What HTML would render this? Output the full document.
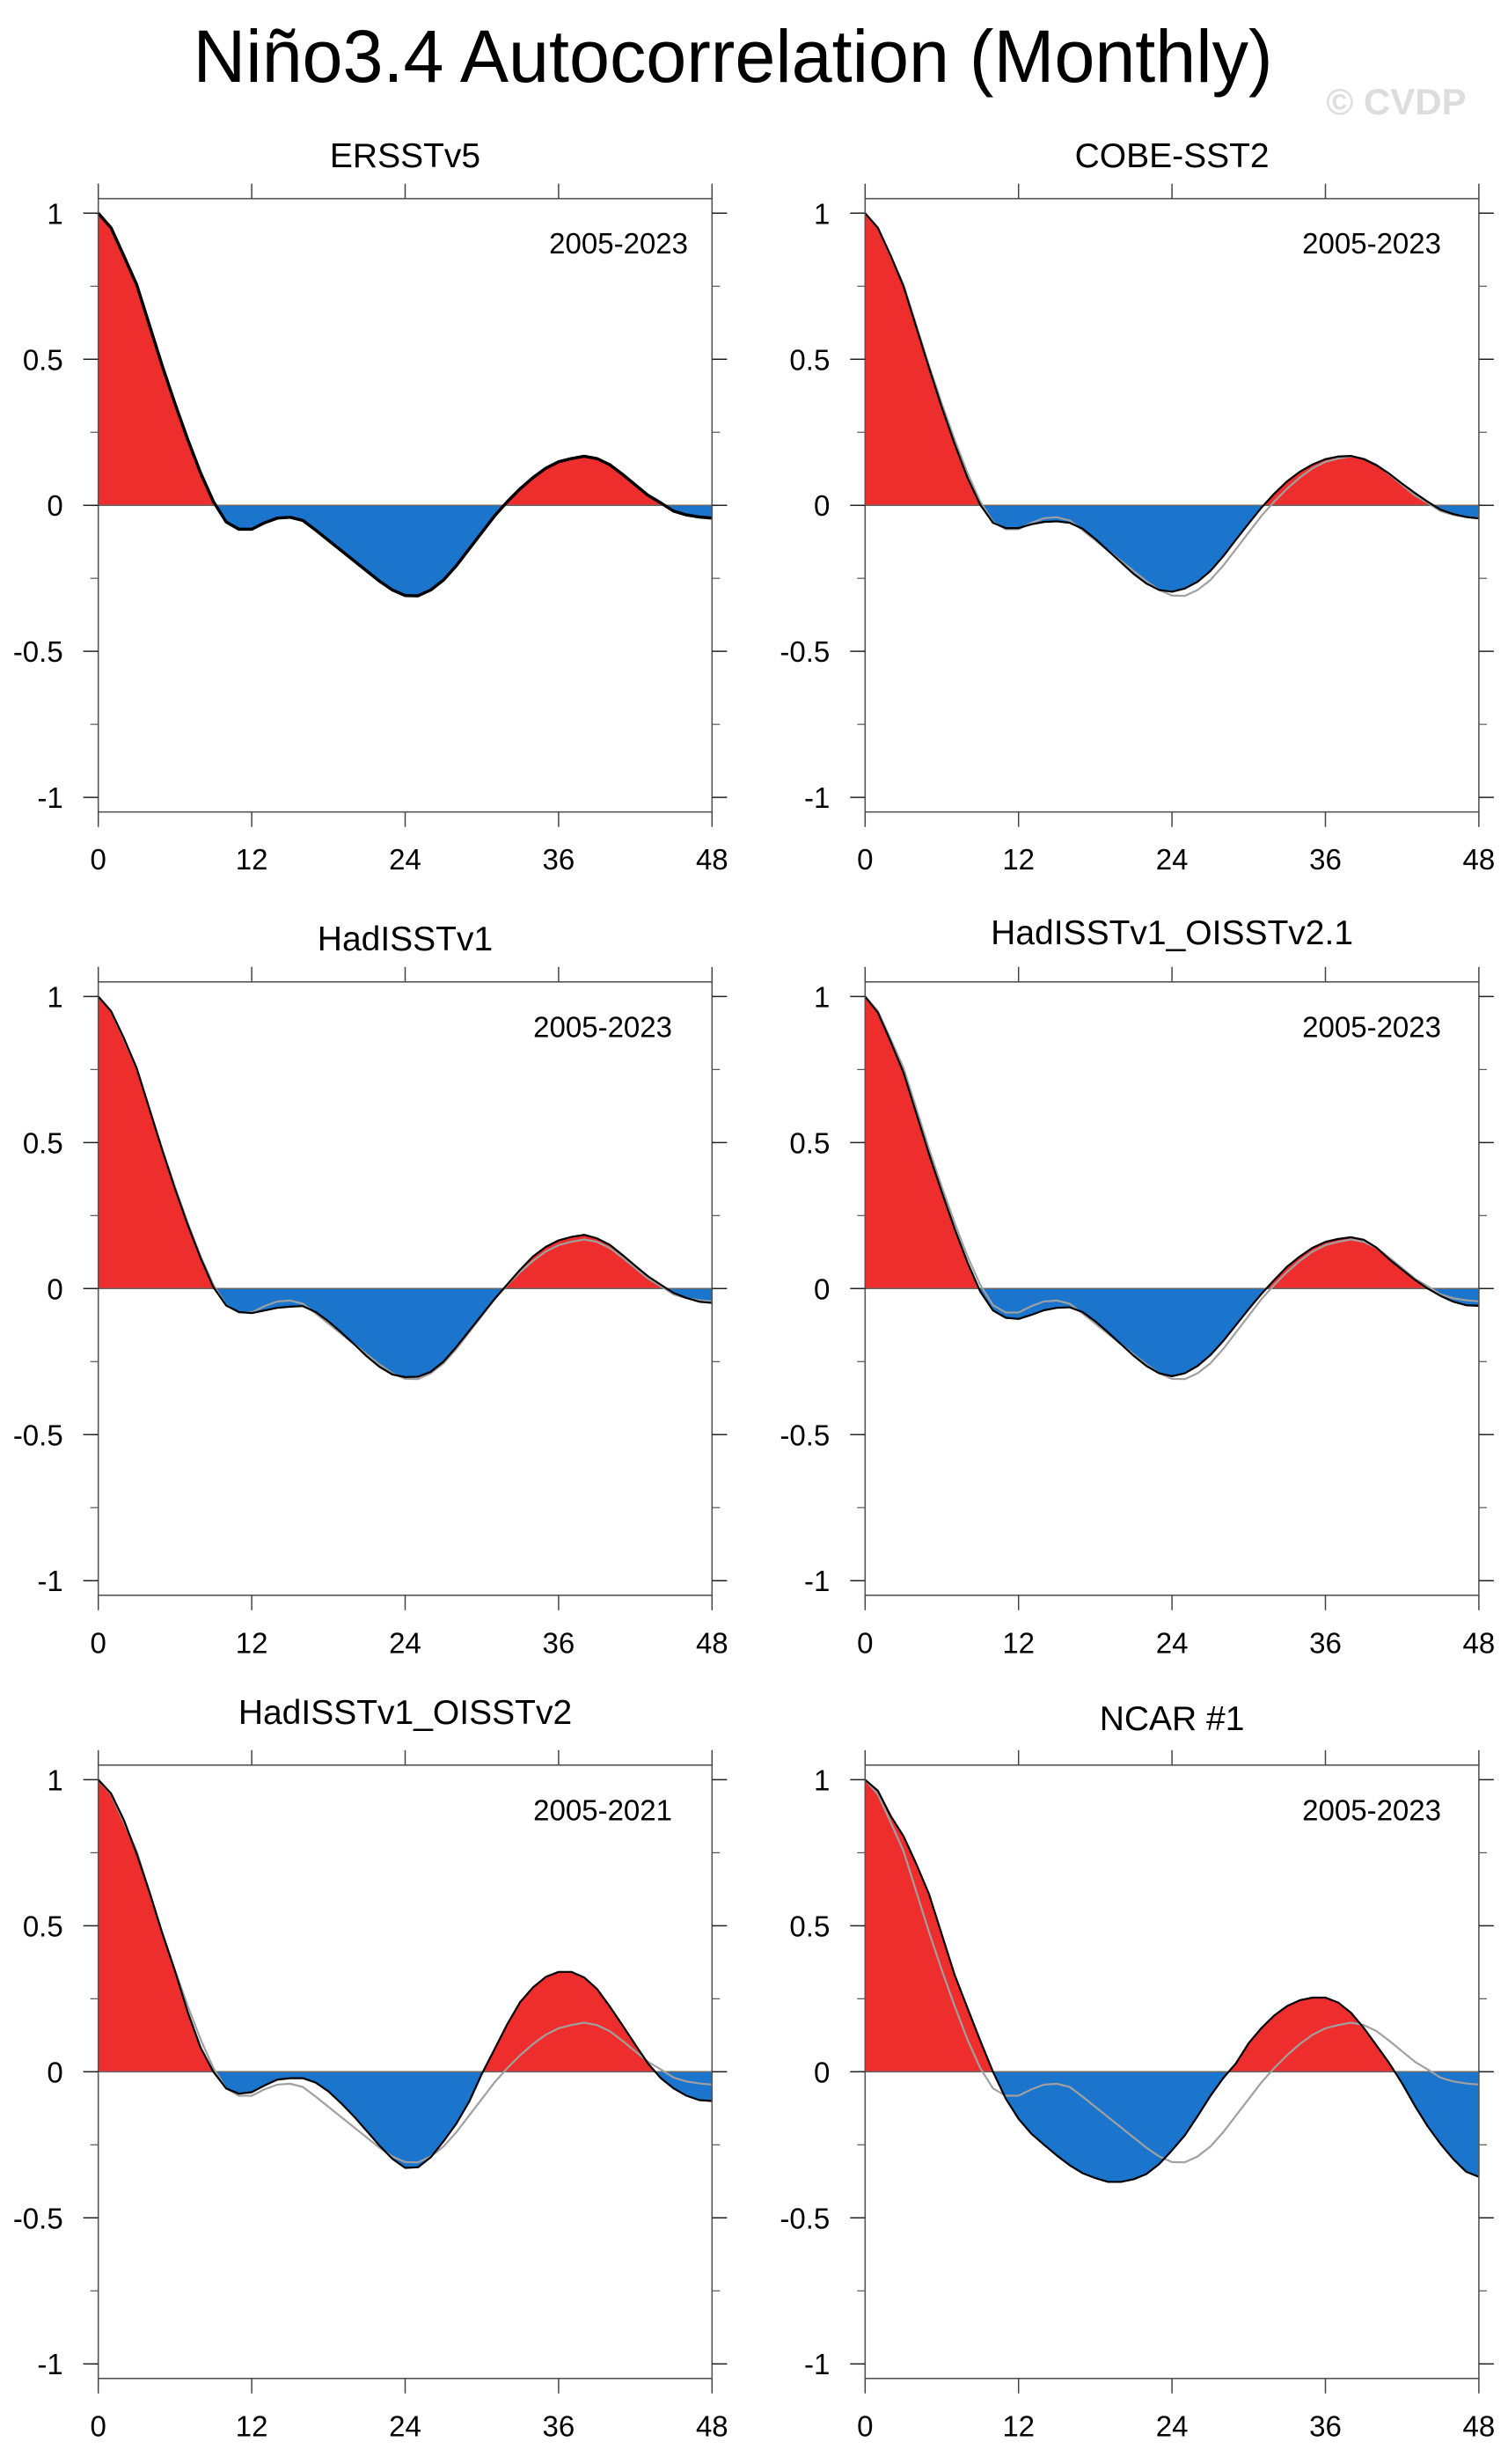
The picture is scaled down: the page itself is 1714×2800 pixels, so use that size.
<!DOCTYPE html>
<html><head><meta charset="utf-8"><style>html,body{margin:0;padding:0;background:#fff}svg{display:block}</style></head>
<body>
<svg id="chart" width="1714" height="2800" viewBox="0 0 1714 2800" xmlns="http://www.w3.org/2000/svg" font-family="Liberation Sans, sans-serif">
<text x="833" y="93" font-size="84" text-anchor="middle" textLength="1227" lengthAdjust="spacingAndGlyphs">Niño3.4 Autocorrelation (Monthly)</text>
<text x="1587" y="130" font-size="42" font-weight="bold" fill="#dddddd" text-anchor="middle">© CVDP</text>
</svg>
<script>
const lags = [0,1,2,3,4,5,6,7,8,9,10,11,12,13,14,15,16,17,18,19,20,21,22,23,24,25,26,27,28,29,30,31,32,33,34,35,36,37,38,39,40,41,42,43,44,45,46,47,48];
const xTicks = [0,12,24,36,48];
const yTicks = [1,0.5,0,-0.5,-1];
const yTickLabels = ["1","0.5","0","-0.5","-1"];
const yMinorTicks = [0.75,0.25,-0.25,-0.75];
const panelTitles = ["ERSSTv5","COBE-SST2","HadISSTv1","HadISSTv1_OISSTv2.1","HadISSTv1_OISSTv2","NCAR #1"];
const panelPeriods = ["2005-2023","2005-2023","2005-2023","2005-2023","2005-2021","2005-2023"];
const refSeries = [1,0.95,0.854,0.756,0.617,0.478,0.348,0.225,0.111,0.013,-0.057,-0.082,-0.082,-0.06,-0.044,-0.041,-0.052,-0.085,-0.12,-0.155,-0.19,-0.225,-0.26,-0.29,-0.309,-0.31,-0.29,-0.256,-0.207,-0.15,-0.093,-0.036,0.013,0.057,0.095,0.127,0.149,0.16,0.168,0.16,0.139,0.106,0.07,0.034,0.008,-0.02,-0.033,-0.04,-0.044];
const seriesErsst = [1,0.95,0.854,0.756,0.617,0.478,0.348,0.225,0.111,0.013,-0.057,-0.082,-0.082,-0.06,-0.044,-0.041,-0.052,-0.085,-0.12,-0.155,-0.19,-0.225,-0.26,-0.29,-0.309,-0.31,-0.29,-0.256,-0.207,-0.15,-0.093,-0.036,0.013,0.057,0.095,0.127,0.149,0.16,0.168,0.16,0.139,0.106,0.07,0.034,0.008,-0.02,-0.033,-0.04,-0.044];
const seriesCobe = [1,0.95,0.855,0.75,0.61,0.47,0.335,0.21,0.095,0.002,-0.06,-0.078,-0.078,-0.065,-0.057,-0.055,-0.06,-0.08,-0.115,-0.155,-0.195,-0.235,-0.268,-0.29,-0.296,-0.285,-0.262,-0.225,-0.175,-0.118,-0.062,-0.008,0.04,0.082,0.115,0.14,0.158,0.167,0.169,0.158,0.137,0.108,0.074,0.042,0.012,-0.015,-0.03,-0.04,-0.045];
const seriesHad = [1,0.95,0.858,0.755,0.615,0.475,0.342,0.218,0.105,0.005,-0.058,-0.08,-0.084,-0.075,-0.066,-0.062,-0.06,-0.08,-0.112,-0.15,-0.19,-0.232,-0.268,-0.294,-0.303,-0.302,-0.285,-0.25,-0.2,-0.145,-0.09,-0.035,0.015,0.065,0.11,0.143,0.165,0.177,0.184,0.172,0.15,0.115,0.078,0.042,0.013,-0.015,-0.032,-0.045,-0.049];
const seriesHadOi21 = [1,0.945,0.845,0.74,0.6,0.46,0.33,0.205,0.09,-0.01,-0.075,-0.1,-0.104,-0.09,-0.074,-0.066,-0.064,-0.08,-0.112,-0.15,-0.19,-0.23,-0.265,-0.29,-0.3,-0.29,-0.265,-0.228,-0.18,-0.125,-0.07,-0.018,0.03,0.075,0.11,0.14,0.16,0.17,0.176,0.167,0.14,0.1,0.065,0.03,0,-0.025,-0.045,-0.057,-0.059];
const seriesHadOi2 = [1,0.953,0.862,0.747,0.616,0.475,0.345,0.204,0.083,0,-0.057,-0.075,-0.07,-0.047,-0.027,-0.022,-0.022,-0.037,-0.067,-0.108,-0.153,-0.203,-0.253,-0.298,-0.329,-0.327,-0.293,-0.238,-0.178,-0.103,-0.007,0.078,0.164,0.239,0.289,0.325,0.342,0.342,0.323,0.284,0.224,0.159,0.093,0.028,-0.022,-0.057,-0.082,-0.097,-0.1];
const seriesNcar = [1,0.962,0.876,0.807,0.712,0.608,0.47,0.332,0.219,0.107,0,-0.092,-0.161,-0.212,-0.25,-0.287,-0.32,-0.347,-0.364,-0.377,-0.377,-0.368,-0.35,-0.316,-0.269,-0.218,-0.152,-0.083,-0.022,0.029,0.098,0.15,0.193,0.225,0.245,0.254,0.254,0.237,0.202,0.15,0.09,0.029,-0.04,-0.117,-0.187,-0.247,-0.299,-0.342,-0.36];

const panelSeries = [seriesErsst, seriesCobe, seriesHad, seriesHadOi21, seriesHadOi2, seriesNcar];

const NS = "http://www.w3.org/2000/svg";
const svg = document.getElementById("chart");
const colX0 = [111.7, 983.3];
const rowY0 = [574.2, 1464.3, 2354.3];
const plotW = 697.6;
const unitH = 331.9;
const periodRight = [782, 1638, 764, 1638, 764, 1638];
const titleY = [190, 190, 1080, 1073, 1959, 1966];

function mk(tag, attrs, parent) {
  const e = document.createElementNS(NS, tag);
  for (const k in attrs) e.setAttribute(k, attrs[k]);
  (parent || svg).appendChild(e);
  return e;
}

for (let p = 0; p < 6; p++) {
  const left = colX0[p % 2];
  const y0 = rowY0[Math.floor(p / 2)];
  const xs = v => left + v / 48 * plotW;
  const ys = v => y0 - v * unitH;
  const top = ys(1.05), bot = ys(-1.05), right = xs(48);
  const g = mk("g", {});
  
  

  const title = mk("text", {x: (left + right) / 2, y: titleY[p], "font-size": 39, "text-anchor": "middle"}, g);
  title.textContent = panelTitles[p];
  
  

  const data = panelSeries[p];
  const cid = "clipP" + p, cidN = "clipN" + p;
  const defs = mk("defs", {}, g);
  const c1 = mk("clipPath", {id: cid}, defs);
  mk("rect", {x: left, y: top, width: plotW, height: y0 - top}, c1);
  const c2 = mk("clipPath", {id: cidN}, defs);
  mk("rect", {x: left, y: y0, width: plotW, height: bot - y0}, c2);

  let pts = lags.map((l, i) => xs(l).toFixed(2) + "," + ys(data[i]).toFixed(2));
  const area = "M" + xs(0) + "," + y0 + " L" + pts.join(" L") + " L" + xs(48) + "," + y0 + " Z";
  const pos = mk("path", {d: area, fill: "#ee2d2d", "clip-path": "url(#" + cid + ")"}, g);
  
  
  const neg = mk("path", {d: area, fill: "#1b75cc", "clip-path": "url(#" + cidN + ")"}, g);
  
  

  const zl = mk("line", {x1: left, x2: right, y1: y0, y2: y0, stroke: "#666", "stroke-width": 1.5}, g);
  
  

  const refPts = lags.map((l, i) => xs(l).toFixed(2) + "," + ys(refSeries[i]).toFixed(2)).join(" ");
  const ref = mk("polyline", {points: refPts, fill: "none", stroke: "#a0a0a0", "stroke-width": 2.2}, g);
  
  

  const line = mk("polyline", {points: pts.join(" "), fill: "none", stroke: "#000", "stroke-width": p === 0 ? 3.5 : 2.2, "stroke-linejoin": "round"}, g);
  
  

  const fr = mk("rect", {x: left, y: top, width: plotW, height: bot - top, fill: "none", stroke: "#555", "stroke-width": 1.6}, g);
  
  

  yTicks.forEach((v, i) => {
    mk("line", {x1: left - 17, x2: left, y1: ys(v), y2: ys(v), stroke: "#222", "stroke-width": 1.5}, g);
    mk("line", {x1: right, x2: right + 17, y1: ys(v), y2: ys(v), stroke: "#222", "stroke-width": 1.5}, g);
    const t = mk("text", {x: left - 40, y: ys(v) + 12, "font-size": 33, "text-anchor": "end"}, g);
    t.textContent = yTickLabels[i];
    
    
  });
  yMinorTicks.forEach(v => {
    mk("line", {x1: left - 9, x2: left, y1: ys(v), y2: ys(v), stroke: "#555", "stroke-width": 1.2}, g);
    mk("line", {x1: right, x2: right + 9, y1: ys(v), y2: ys(v), stroke: "#555", "stroke-width": 1.2}, g);
  });
  xTicks.forEach(v => {
    mk("line", {x1: xs(v), x2: xs(v), y1: top - 17, y2: top, stroke: "#444", "stroke-width": 1.5}, g);
    mk("line", {x1: xs(v), x2: xs(v), y1: bot, y2: bot + 17, stroke: "#444", "stroke-width": 1.5}, g);
    const t = mk("text", {x: xs(v), y: y0 + 414, "font-size": 33, "text-anchor": "middle"}, g);
    t.textContent = String(v);
    
    
  });

  const per = mk("text", {x: periodRight[p], y: y0 - 286, "font-size": 33, "text-anchor": "end"}, g);
  per.textContent = panelPeriods[p];
  
  
}
</script>
</body></html>
